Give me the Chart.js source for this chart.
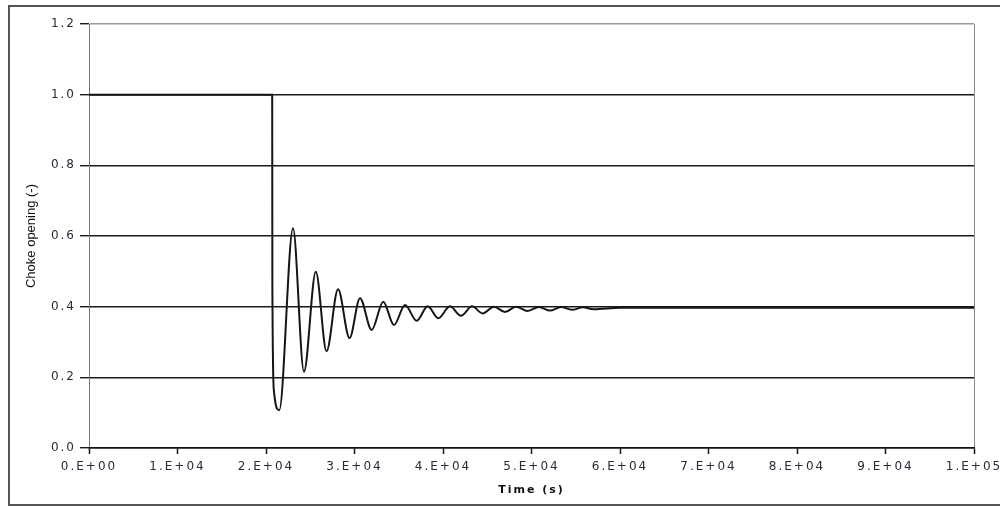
<!DOCTYPE html>
<html>
<head>
<meta charset="utf-8">
<script src="https://cdn.jsdelivr.net/npm/chart.js@4.4.0/dist/chart.umd.min.js"></script>
<style>
  html, body { margin: 0; padding: 0; background: #fff; overflow: hidden; }
  #wrap { position: relative; width: 1000px; height: 506px; overflow: hidden; }
  #frame { position: absolute; left: 8px; top: 5px; width: 1010px; height: 497px; border: 2px solid #555; box-sizing: content-box; z-index: 2; pointer-events: none; }
  #chart { position: absolute; left: 0; top: 0; z-index: 1; }
</style>
</head>
<body>
<div id="wrap">
  <canvas id="chart" width="1000" height="506"></canvas>
  <div id="frame"></div>
</div>
<script>
// values
const timeS = [0, 20700, 20720, 20900, 21500,
  23050, 24290, 25630, 26840, 28140, 29440, 30620, 31940, 33250, 34460,
  35710, 37030, 38270, 39470, 40790, 42030, 43280, 44490, 45760, 47010,
  48250, 49570, 50850, 52090, 53330, 54580, 55800, 57000, 60000, 100000];
const chokeOpening = [1.0, 1.0, 0.46, 0.16, 0.107,
  0.622, 0.216, 0.499, 0.274, 0.449, 0.311, 0.424, 0.334, 0.414, 0.348,
  0.405, 0.36, 0.401, 0.367, 0.401, 0.374, 0.401, 0.381, 0.4, 0.385,
  0.4, 0.388, 0.399, 0.389, 0.399, 0.391, 0.398, 0.393, 0.397, 0.397];

const xTicks = { min: 0, max: 100000, step: 10000 };
const yTicks = { min: 0, max: 1.2, step: 0.2 };

const FONT = "'DejaVu Sans', Verdana, sans-serif";
const TITLE_FONT = "'Liberation Sans', Arial, sans-serif";

function sciLabel(v) {
  if (v === 0) return '0.E+00';
  const exp = Math.floor(Math.log10(v) + 1e-9);
  const mant = Math.round(v / Math.pow(10, exp));
  return mant + '.E+' + String(exp).padStart(2, '0');
}

// the reference text is stretched sideways; widen the text drawn after the data
const spacingPlugin = {
  id: 'spacing',
  beforeDraw(chart) { chart.ctx.letterSpacing = '0px'; },
  afterDatasetsDraw(chart) { chart.ctx.letterSpacing = '2px'; },
  afterDraw(chart) { chart.ctx.letterSpacing = '0px'; }
};

const points = timeS.map((t, i) => ({ x: t, y: chokeOpening[i] }));

new Chart(document.getElementById('chart'), {
  type: 'line',
  data: {
    datasets: [{
      data: points,
      borderColor: '#151515',
      borderWidth: 2,
      pointRadius: 0,
      fill: false,
      cubicInterpolationMode: 'monotone'
    }]
  },
  options: {
    responsive: false,
    animation: false,
    layout: { autoPadding: false, padding: { top: 24, right: 26, left: 0, bottom: 0 } },
    plugins: { legend: { display: false }, tooltip: { enabled: false } },
    scales: {
      x: {
        type: 'linear',
        min: xTicks.min,
        max: xTicks.max,
        afterFit: s => { s.height = 58; s.paddingLeft = 0; s.paddingRight = 0; },
        ticks: {
          stepSize: xTicks.step,
          autoSkip: false,
          maxRotation: 0,
          padding: 6,
          z: 1,
          color: '#2a2a3a',
          font: { family: FONT, size: 12 },
          callback: v => sciLabel(v)
        },
        grid: {
          z: 1,
          drawOnChartArea: true,
          color: c => (c.tick && c.tick.value === xTicks.max) ? '#888' : 'rgba(0,0,0,0)',
          lineWidth: 1,
          tickColor: '#111',
          tickLength: 6,
          tickWidth: 1.5
        },
        // border must come after the grid layer, which computes its position
        border: { color: '#111', width: 1.5, z: 1 },
        title: {
          display: true,
          text: 'Time (s)',
          color: '#111',
          font: { family: FONT, size: 11, weight: 'bold' },
          padding: { top: 0, bottom: 9 }
        }
      },
      y: {
        min: yTicks.min,
        max: yTicks.max,
        afterFit: s => { s.width = 89; s.paddingTop = 0; s.paddingBottom = 0; },
        ticks: {
          stepSize: yTicks.step,
          padding: 4,
          z: 1,
          color: '#2a2a3a',
          font: { family: FONT, size: 12 },
          callback: v => v.toFixed(1)
        },
        grid: {
          color: c => (c.tick && Math.abs(c.tick.value - yTicks.max) < 1e-6) ? '#999' : '#1a1a1a',
          lineWidth: 1.4,
          tickColor: '#1a1a1a',
          tickLength: 9
        },
        border: { color: '#777', width: 1 },
        title: {
          display: true,
          text: 'Choke opening (-)',
          color: '#111',
          font: { family: TITLE_FONT, size: 13 },
          padding: { top: 24, bottom: 0 }
        }
      }
    }
  },
  plugins: [spacingPlugin]
});
</script>
</body>
</html>
